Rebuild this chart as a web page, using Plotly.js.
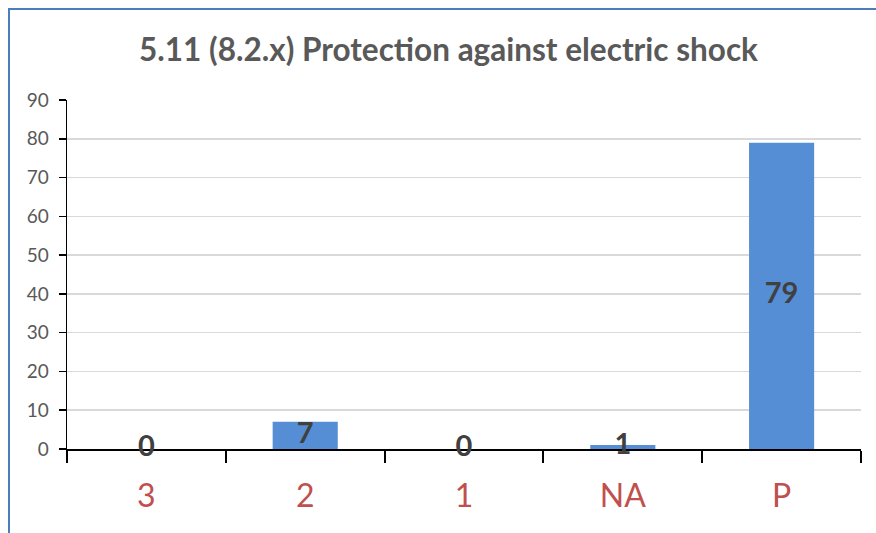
<!DOCTYPE html>
<html>
<head>
<meta charset="utf-8">
<script src="https://cdn.plot.ly/plotly-3.0.1.min.js"></script>
<style>
html,body{margin:0;padding:0;overflow:hidden;background:#fff;}
#chart{width:876px;height:533px;}
#frame{position:absolute;left:8px;top:8px;width:2000px;height:2000px;border:2px solid #4A7EBB;pointer-events:none;}
</style>
</head>
<body>
<div id="chart"></div>
<div id="frame"></div>
<script>
const categories = ["3", "2", "1", "NA", "P"];
const values = [0, 7, 0, 1, 79];
const titleText = "5.11 (8.2.x) Protection against electric shock";

const barTrace = {
  type: "bar",
  x: categories,
  y: values,
  marker: {color: "#558ED5"},
  hoverinfo: "none"
};
const labelTrace = {
  type: "scatter",
  mode: "text",
  x: categories,
  y: values.map(v => v / 2),
  text: values.map(String),
  textposition: "middle center",
  textfont: {family: "Lato", size: 29, color: "#404040", weight: "bold"},
  cliponaxis: false,
  hoverinfo: "none"
};

const layout = {
  width: 876, height: 533,
  margin: {l: 67, r: 15, t: 100, b: 84},
  paper_bgcolor: "#fff", plot_bgcolor: "#fff",
  showlegend: false,
  bargap: 0.59,
  font: {family: "Lato"},
  title: {
    text: "<b>" + titleText + "</b>",
    font: {family: "Lato", size: 31.5, color: "#595959"},
    x: 0.512, xanchor: "center",
    y: 1 - 50 / 533, yanchor: "middle", yref: "container"
  },
  xaxis: {
    type: "category",
    showline: true, linecolor: "#000", linewidth: 2,
    ticks: "outside", tickson: "boundaries", ticklen: 12, tickwidth: 2, tickcolor: "#000",
    tickfont: {family: "Lato", size: 32, color: "#C0504D"},
    ticklabelstandoff: 18,
    showgrid: false,
    layer: "below traces",
    fixedrange: true
  },
  yaxis: {
    range: [0, 90], dtick: 10, tick0: 0,
    showline: true, linecolor: "#000", linewidth: 1.5,
    ticks: "outside", ticklen: 7, tickwidth: 1.5, tickcolor: "#000",
    tickfont: {family: "Lato", size: 19, color: "#595959"},
    ticklabelstandoff: 6,
    showgrid: true, gridcolor: "#D9D9D9", gridwidth: 1.5,
    zeroline: false,
    layer: "below traces",
    fixedrange: true
  }
};

Plotly.newPlot("chart", [barTrace, labelTrace], layout, {displayModeBar: false, staticPlot: true});
</script>
</body>
</html>
